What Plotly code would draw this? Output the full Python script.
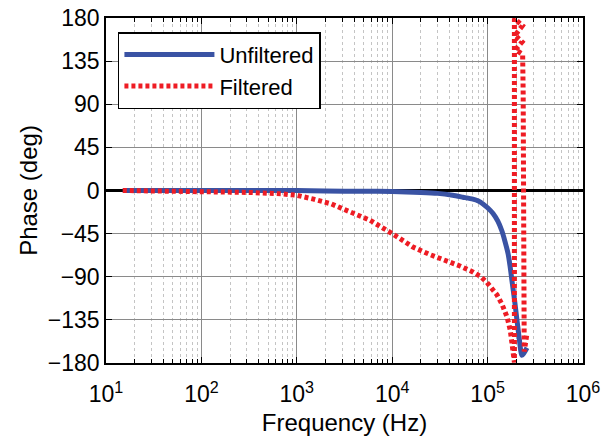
import plotly.graph_objects as go

# ---- data ----
unf_freq = [15, 100, 1000, 2000, 5000, 10000, 20000, 30000, 43000, 55000, 70000,
            80000, 89500, 100000, 114000, 128000, 141000, 152000, 164000, 172000,
            180000, 192000, 203000, 215000, 229000, 259000]
unf_phase = [0, 0, 0, -0.5, -0.8, -1, -2, -3, -5, -7, -9,
             -11, -14, -18, -24, -32, -42, -53, -66, -79,
             -94, -115, -135, -155, -172, -164]

filt_freq = [15, 100, 310, 700, 1000, 1500, 2300, 3360, 5850, 10000, 16500,
             25000, 37500, 52000, 70000, 85000, 98600, 112000, 125600, 142000,
             160000, 173000, 184500, 191000, 191000, 232000, 194000,
             230000, 196000, 233000, 236000, 238000, 240000, 242000, 258000]
filt_phase = [0, -1, -2, -3.5, -5, -9, -14, -21, -31, -45, -59,
              -67, -73, -79, -85, -90, -96, -102, -109, -119,
              -132, -146, -166, -179.5, 179.5, 172, 162,
              155, 147, 142, 100, 0, -100, -168, -150]

series_names = ["Unfiltered", "Filtered"]
x_tick_vals = [10, 100, 1000, 10000, 100000, 1000000]
x_tick_text = ["10<sup>1</sup>", "10<sup>2</sup>", "10<sup>3</sup>",
               "10<sup>4</sup>", "10<sup>5</sup>", "10<sup>6</sup>"]
x_minor_vals = [m * 10 ** d for d in range(1, 6) for m in range(2, 10)]
y_tick_vals = [-180, -135, -90, -45, 0, 45, 90, 135, 180]

FONT = "Liberation Sans, Arial, sans-serif"

fig = go.Figure()
fig.add_trace(go.Scatter(
    x=unf_freq, y=unf_phase, mode="lines", name=series_names[0],
    line=dict(color="#3a53a4", width=5, shape="spline", smoothing=0.6),
))
fig.add_trace(go.Scatter(
    x=filt_freq, y=filt_phase, mode="lines", name=series_names[1],
    line=dict(color="#ee1c24", width=5, dash="4px,3px"),
))

fig.update_layout(
    width=610, height=441,
    margin=dict(l=106, r=27, t=18, b=78),
    paper_bgcolor="white", plot_bgcolor="white",
    font=dict(family=FONT, size=23, color="black"),
    showlegend=True,
    legend=dict(
        x=0.025, y=0.959, xanchor="left", yanchor="top",
        bgcolor="white", bordercolor="black", borderwidth=1.5,
        font=dict(family=FONT, size=22, color="black"),
        itemwidth=90, tracegroupgap=0,
    ),
    xaxis=dict(
        type="log", range=[1, 6], automargin=False,
        tickmode="array", tickvals=x_tick_vals, ticktext=x_tick_text,
        ticklabelstandoff=10,
        showgrid=True, gridcolor="#8a8a8a", gridwidth=1,
        ticks="inside", ticklen=6, tickcolor="black",
        showline=True, linecolor="black", linewidth=1.5, mirror="ticks",
        minor=dict(tickmode="array", tickvals=x_minor_vals, showgrid=True,
                   gridcolor="#c4c4c4", griddash="dot", gridwidth=1,
                   ticks="inside", ticklen=4, tickcolor="black"),
        title=dict(text="Frequency (Hz)", font=dict(size=24), standoff=8),
        zeroline=False,
    ),
    yaxis=dict(
        range=[-180, 180], tickmode="array", tickvals=y_tick_vals,
        automargin=False,
        showgrid=True, gridcolor="#8a8a8a", gridwidth=1,
        ticks="inside", ticklen=6, tickcolor="black",
        showline=True, linecolor="black", linewidth=1.5, mirror="ticks",
        zeroline=True, zerolinecolor="black", zerolinewidth=2.5,
        title=dict(text="Phase (deg)", font=dict(size=24), standoff=3),
    ),
)

# remove the browser's default 8px page margin so the figure fills the window
fig.write_html("out.html", config={"displayModeBar": False},
               post_script="document.body.style.margin='0px';")
